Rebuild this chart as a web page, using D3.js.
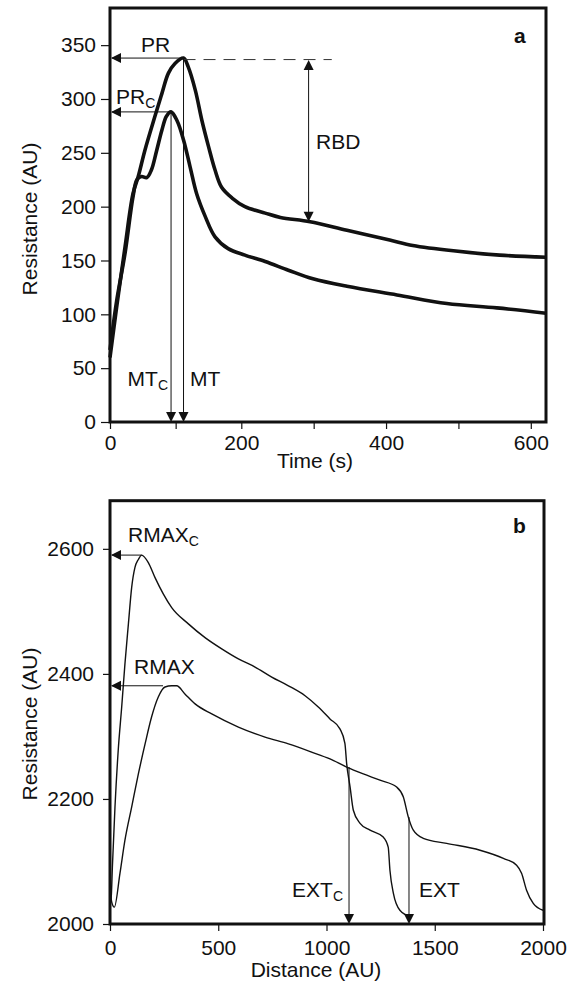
<!DOCTYPE html>
<html>
<head>
<meta charset="utf-8">
<script src="https://cdn.jsdelivr.net/npm/d3@7"></script>
<style>
  body { margin: 0; background: #fff; }
  svg text { font-family: "Liberation Sans", Arial, Helvetica, sans-serif; fill: #111; }
</style>
</head>
<body>
<svg id="chart" width="575" height="981"></svg>
<script>
// Panel a: resistance over time, two curves (PR curve and PRc curve)
const prTime = [0, 10, 23, 35, 43, 53, 68, 79, 89, 99, 112, 119, 130, 140, 150, 160, 170, 186, 205, 233, 254, 295, 346, 405, 437, 493, 557, 621];
const prRes  = [60, 106, 163, 212, 228, 252, 283, 305, 324, 333, 338, 330, 308, 280, 256, 234, 218, 208, 200, 194, 190, 186, 178, 169, 164, 159, 155, 153];

const prcTime = [0, 10, 23, 35, 41, 48, 56, 63, 71, 79, 86, 93, 102, 112, 122, 132, 145, 160, 180, 205, 233, 265, 299, 346, 415, 484, 553, 621];
const prcRes  = [67, 112, 157, 209, 225, 228, 227, 234, 252, 271, 284, 288, 280, 262, 237, 212, 191, 172, 161, 155, 149, 141, 133, 126, 118, 110, 106, 101];

const timeTicks = [0, 100, 200, 300, 400, 500, 600];
const resTicksA = [0, 50, 100, 150, 200, 250, 300, 350];

// annotation values for panel a
const peakA = { pr: 338, prc: 288, mt: 112, mtc: 93, rbdTime: 293, rbdLow: 186, dashEnd: 325 };

// Panel b: resistance over distance, two curves (RMAXc curve and RMAX curve)
const rmaxcDist = [0, 6, 11, 23, 38, 54, 69, 85, 100, 115, 131, 146, 177, 208, 246, 285, 362, 439, 516, 593, 670, 747, 824, 901, 962, 1016, 1062, 1085, 1093, 1109, 1124, 1155, 1201, 1262, 1285, 1293, 1309, 1339, 1386];
const rmaxcRes  = [2030, 2045, 2091, 2187, 2278, 2347, 2416, 2480, 2538, 2570, 2583, 2590, 2578, 2554, 2528, 2506, 2480, 2458, 2440, 2424, 2411, 2395, 2381, 2365, 2347, 2328, 2312, 2289, 2257, 2219, 2182, 2161, 2150, 2139, 2123, 2086, 2049, 2022, 2012];

const rmaxDist = [0, 8, 20, 46, 69, 100, 131, 162, 192, 223, 254, 285, 308, 346, 393, 470, 593, 716, 824, 931, 1016, 1093, 1170, 1247, 1324, 1355, 1378, 1401, 1447, 1555, 1709, 1817, 1878, 1901, 1924, 1955, 2000];
const rmaxRes  = [2055, 2035, 2027, 2081, 2134, 2187, 2240, 2288, 2331, 2363, 2379, 2381, 2381, 2368, 2352, 2336, 2315, 2299, 2288, 2275, 2264, 2251, 2240, 2230, 2219, 2203, 2171, 2150, 2137, 2129, 2118, 2105, 2094, 2081, 2054, 2033, 2022];

const distTicks = [0, 500, 1000, 1500, 2000];
const resTicksB = [2000, 2200, 2400, 2600];

// annotation values for panel b
const peakB = { rmaxc: 2590, rmaxcDist: 146, rmax: 2381, rmaxDist: 245, extc: 1104, extcTop: 2251, ext: 1381, extTop: 2171 };

const svg = d3.select("#chart");
const fontSize = "21px";

// filled triangle with its tip at (x, y)
function arrowHead(g, x, y, dir) {
  const w = 5, l = 10;
  let pts;
  if (dir === "left") pts = [[x, y], [x + l, y - w], [x + l, y + w]];
  else if (dir === "down") pts = [[x, y], [x - w, y - l], [x + w, y - l]];
  else pts = [[x, y], [x - w, y + l], [x + w, y + l]];
  g.append("path").attr("d", d3.line()(pts) + "Z").attr("fill", "#111");
}

function thinLine(g, x1, y1, x2, y2) {
  return g.append("line")
    .attr("x1", x1).attr("y1", y1).attr("x2", x2).attr("y2", y2)
    .attr("stroke", "#111").attr("stroke-width", 1);
}

// label with optional subscript
function label(g, x, y, main, sub, anchor = "start", bold = false) {
  const t = g.append("text")
    .attr("x", x).attr("y", y)
    .attr("text-anchor", anchor)
    .style("font-size", fontSize)
    .style("font-weight", bold ? "bold" : "normal")
    .text(main);
  if (sub) t.append("tspan").attr("dy", 4).style("font-size", "14px").text(sub);
  return t;
}

function styleAxis(g) {
  g.select(".domain").remove();
  g.selectAll(".tick line").attr("stroke", "#111").attr("stroke-width", 1.2);
  g.selectAll(".tick text").style("font-size", fontSize).attr("fill", "#111");
}

// ---------- Panel a ----------
const xA = d3.scaleLinear().domain([0, 200, 621]).range([110, 241.3, 546]);
const yA = d3.scaleLinear().domain([0, 384.5]).range([422, 8]);
const gA = svg.append("g");

gA.append("g")
  .attr("transform", `translate(${xA(0)},0)`)
  .call(d3.axisLeft(yA).tickValues(resTicksA).tickFormat(d3.format("d")).tickSize(9).tickPadding(5))
  .call(styleAxis);

gA.append("g")
  .attr("transform", `translate(0,${yA(0)})`)
  .call(d3.axisBottom(xA).tickValues(timeTicks).tickFormat(d => d % 200 === 0 ? d : "").tickSize(7).tickPadding(6))
  .call(styleAxis);

const lineA = (ts, vs) => d3.line()
  .x((d, i) => xA(ts[i]))
  .y(d => yA(d))
  .curve(d3.curveCatmullRom)(vs);

gA.append("path").attr("d", lineA(prTime, prRes))
  .attr("fill", "none").attr("stroke", "#111").attr("stroke-width", 3.6).attr("stroke-linejoin", "round");
gA.append("path").attr("d", lineA(prcTime, prcRes))
  .attr("fill", "none").attr("stroke", "#111").attr("stroke-width", 3.6).attr("stroke-linejoin", "round");

// PR and PRc arrows
thinLine(gA, xA(0) + 2, yA(peakA.pr), xA(peakA.mt), yA(peakA.pr));
arrowHead(gA, xA(0) + 1, yA(peakA.pr), "left");
thinLine(gA, xA(0) + 2, yA(peakA.prc), xA(peakA.mtc), yA(peakA.prc));
arrowHead(gA, xA(0) + 1, yA(peakA.prc), "left");

// dashed reference line from PR peak
thinLine(gA, xA(peakA.mt), yA(peakA.pr) + 1.5, xA(peakA.dashEnd), yA(peakA.pr) + 1.5)
  .attr("stroke-dasharray", "12,8").attr("stroke", "#333");

// RBD double arrow
thinLine(gA, xA(peakA.rbdTime), yA(peakA.pr) + 4, xA(peakA.rbdTime), yA(peakA.rbdLow) - 4);
arrowHead(gA, xA(peakA.rbdTime), yA(peakA.pr) + 2, "up");
arrowHead(gA, xA(peakA.rbdTime), yA(peakA.rbdLow), "down");

// MT and MTc arrows
thinLine(gA, xA(peakA.mt), yA(peakA.pr), xA(peakA.mt), yA(0) - 4);
arrowHead(gA, xA(peakA.mt), yA(0), "down");
thinLine(gA, xA(peakA.mtc), yA(peakA.prc), xA(peakA.mtc), yA(0) - 4);
arrowHead(gA, xA(peakA.mtc), yA(0), "down");

label(gA, 141, 52, "PR");
label(gA, 116, 104, "PR", "C");
label(gA, 316, 149, "RBD");
label(gA, 168, 386, "MT", "C", "end");
label(gA, 190, 386, "MT");
label(gA, 514, 43, "a", null, "start", true);

// frame
gA.append("rect")
  .attr("x", xA(0)).attr("y", yA(384.5))
  .attr("width", xA(621) - xA(0)).attr("height", yA(0) - yA(384.5))
  .attr("fill", "none").attr("stroke", "#111").attr("stroke-width", 3);

gA.append("text")
  .attr("x", 315).attr("y", 468)
  .attr("text-anchor", "middle")
  .style("font-size", fontSize)
  .text("Time (s)");

gA.append("text")
  .attr("transform", "translate(37,219) rotate(-90)")
  .attr("text-anchor", "middle")
  .style("font-size", fontSize)
  .text("Resistance (AU)");

// ---------- Panel b ----------
const xB = d3.scaleLinear().domain([0, 2000]).range([110, 543]);
const yB = d3.scaleLinear().domain([2000, 2677]).range([924, 500.7]);
const gB = svg.append("g");

gB.append("g")
  .attr("transform", `translate(${xB(0)},0)`)
  .call(d3.axisLeft(yB).tickValues(resTicksB).tickFormat(d3.format("d")).tickSize(7).tickPadding(9))
  .call(styleAxis);

gB.append("g")
  .attr("transform", `translate(0,${yB(2000)})`)
  .call(d3.axisBottom(xB).tickValues(distTicks).tickFormat(d3.format("d")).tickSize(7).tickPadding(9))
  .call(styleAxis);

const lineB = (ds, vs) => d3.line()
  .x((d, i) => xB(ds[i]))
  .y(d => yB(d))
  .curve(d3.curveMonotoneX)(vs);

gB.append("path").attr("d", lineB(rmaxcDist, rmaxcRes))
  .attr("fill", "none").attr("stroke", "#111").attr("stroke-width", 1.4);
gB.append("path").attr("d", lineB(rmaxDist, rmaxRes))
  .attr("fill", "none").attr("stroke", "#111").attr("stroke-width", 1.4);

// RMAXc and RMAX arrows
thinLine(gB, xB(0) + 2, yB(peakB.rmaxc), xB(peakB.rmaxcDist), yB(peakB.rmaxc));
arrowHead(gB, xB(0) + 1, yB(peakB.rmaxc), "left");
thinLine(gB, xB(0) + 2, yB(peakB.rmax), xB(peakB.rmaxDist), yB(peakB.rmax));
arrowHead(gB, xB(0) + 1, yB(peakB.rmax), "left");

// EXTc and EXT arrows
thinLine(gB, xB(peakB.extc), yB(peakB.extcTop), xB(peakB.extc), yB(2000) - 4);
arrowHead(gB, xB(peakB.extc), yB(2000), "down");
thinLine(gB, xB(peakB.ext), yB(peakB.extTop), xB(peakB.ext), yB(2000) - 4);
arrowHead(gB, xB(peakB.ext), yB(2000), "down");

label(gB, 128, 542, "RMAX", "C");
label(gB, 134, 674, "RMAX");
label(gB, 343, 897, "EXT", "C", "end");
label(gB, 419, 897, "EXT");
label(gB, 513, 533, "b", null, "start", true);

gB.append("rect")
  .attr("x", xB(0)).attr("y", yB(2677))
  .attr("width", xB(2000) - xB(0) + 1).attr("height", yB(2000) - yB(2677))
  .attr("fill", "none").attr("stroke", "#111").attr("stroke-width", 3);

gB.append("text")
  .attr("x", 316).attr("y", 977)
  .attr("text-anchor", "middle")
  .style("font-size", fontSize)
  .text("Distance (AU)");

gB.append("text")
  .attr("transform", "translate(37,724) rotate(-90)")
  .attr("text-anchor", "middle")
  .style("font-size", fontSize)
  .text("Resistance (AU)");
</script>
</body>
</html>
